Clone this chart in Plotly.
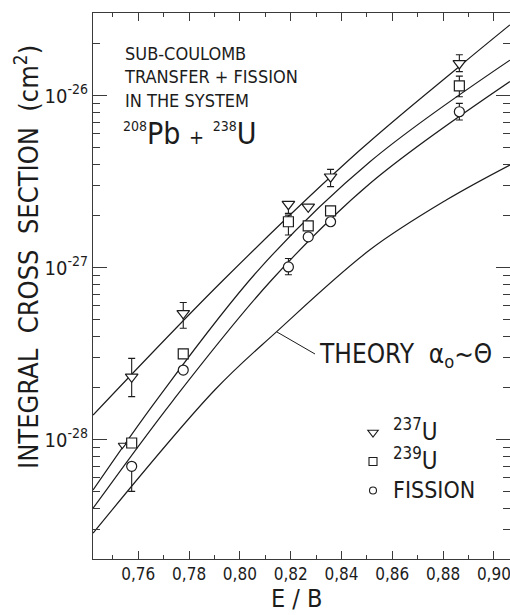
import plotly.graph_objects as go

FONT = "Liberation Sans Narrow, DejaVu Sans Condensed, Arial Narrow, Roboto Condensed, Liberation Sans, sans-serif"
INK = "#1c1c1c"
FRAME = "#3a3a3a"

# ---- measured integral cross sections (cm^2) versus E/B ----
ratio = [0.7574, 0.7777, 0.8191, 0.8269, 0.8357, 0.8864]

u237 = [2.32e-28, 5.43e-28, 2.34e-27, 2.26e-27, 3.38e-27, 1.54e-26]
u237_hi = [2.97e-28, 6.27e-28, 2.34e-27, 2.26e-27, 3.73e-27, 1.73e-26]
u237_lo = [1.78e-28, 4.44e-28, 2.07e-27, 2.26e-27, 2.96e-27, 1.38e-26]

u239 = [9.56e-29, 3.15e-28, 1.85e-27, 1.75e-27, 2.14e-27, 1.14e-26]
u239_hi = [9.56e-29, 3.15e-28, 2.02e-27, 1.75e-27, 2.14e-27, 1.30e-26]
u239_lo = [9.56e-29, 3.15e-28, 1.55e-27, 1.75e-27, 2.14e-27, 9.86e-27]

fission = [7.0e-29, 2.54e-28, 1.01e-27, 1.51e-27, 1.85e-27, 8.07e-27]
fission_hi = [7.0e-29, 2.54e-28, 1.13e-27, 1.51e-27, 1.85e-27, 9.03e-27]
fission_lo = [5.0e-29, 2.54e-28, 9.1e-28, 1.51e-27, 1.85e-27, 7.22e-27]

# extra low-energy 237U point
u237_extra_ratio = [0.7537]
u237_extra = [9.3e-29]

# ---- smooth curves through each data set ----
fit237_x = [0.7422, 0.7935, 0.8473, 0.8864, 0.9063]
fit237_y = [1.39e-28, 8.48e-28, 4.83e-27, 1.48e-26, 2.58e-26]

fit239_x = [0.7422, 0.7672, 0.8079, 0.8512, 0.9063]
fit239_y = [5.10e-29, 1.70e-28, 9.92e-28, 4.13e-27, 1.61e-26]

fitfis_x = [0.7422, 0.7738, 0.8125, 0.8512, 0.9063]
fitfis_y = [3.99e-29, 1.70e-28, 8.48e-28, 3.09e-27, 1.21e-26]

theory_x = [0.7422, 0.7902, 0.8145, 0.8512, 0.8814, 0.9063]
theory_y = [2.86e-29, 1.95e-28, 4.25e-28, 1.27e-27, 2.48e-27, 3.95e-27]

# ---- axis ticks ----
x_ticks = [0.76, 0.78, 0.80, 0.82, 0.84, 0.86, 0.88, 0.90]
x_ticktext = ["0,76", "0,78", "0,80", "0,82", "0,84", "0,86", "0,88", "0,90"]
x_minor = [0.75, 0.77, 0.79, 0.81, 0.83, 0.85, 0.87, 0.89]
y_ticks = [1e-28, 1e-27, 1e-26]
y_ticktext = ["10<sup>-28</sup>", "10<sup>-27</sup>", "10<sup>-26</sup>"]
y_minor = [m * d for d in (1e-29, 1e-28, 1e-27, 1e-26) for m in range(2, 10)]

legend_names = [
    "<span style='font-size:24px'><sup>237</sup>U</span>",
    "<span style='font-size:24px'><sup>239</sup>U</span>",
    "<span style='font-size:23px'>FISSION</span>",
]


def errs(val, hi, lo):
    return [h - v for v, h in zip(val, hi)], [v - l for v, l in zip(val, lo)]


fig = go.Figure()

for cx, cy in [(fit237_x, fit237_y), (fit239_x, fit239_y),
               (fitfis_x, fitfis_y), (theory_x, theory_y)]:
    fig.add_trace(go.Scatter(
        x=cx, y=cy, mode="lines", showlegend=False, hoverinfo="skip",
        line=dict(color=INK, width=1.2, shape="spline", smoothing=1.0),
    ))

series = [
    (u237, u237_hi, u237_lo, "triangle-down", 11),
    (u239, u239_hi, u239_lo, "square", 10),
    (fission, fission_hi, fission_lo, "circle", 10),
]
for val, hi, lo, sym, size in series:
    plus, minus = errs(val, hi, lo)
    fig.add_trace(go.Scatter(
        x=ratio, y=val, mode="markers", showlegend=False,
        marker=dict(symbol=sym, size=size, color="white",
                    line=dict(color=INK, width=1.2)),
        error_y=dict(type="data", array=plus, arrayminus=minus,
                     color=INK, thickness=1.1, width=3.5),
    ))

fig.add_trace(go.Scatter(
    x=u237_extra_ratio, y=u237_extra, mode="markers", showlegend=False,
    marker=dict(symbol="triangle-down", size=7, color="white",
                line=dict(color=INK, width=1.1)),
))

# legend keys
for name, sym, size in zip(legend_names, ["triangle-down", "square", "circle"], [9, 8, 7]):
    fig.add_trace(go.Scatter(
        x=[None], y=[None], mode="markers", name=name,
        marker=dict(symbol=sym, size=size, color="white",
                    line=dict(color=INK, width=1.1)),
    ))


def px_x(p):
    return (p - 93) / 417


def px_y(p):
    return (559 - p) / 546


SUP = "<sup><span style='font-size:14px'>{}</span></sup>"
ann = [
    dict(text="SUB-COULOMB<br>TRANSFER + FISSION<br>IN THE SYSTEM",
         x=px_x(122), y=px_y(77), size=18),
    dict(text=SUP.format("208") + "Pb <span style='font-size:20px'>+</span> "
         + SUP.format("238") + "U",
         x=px_x(121), y=px_y(133), size=30),
    dict(text="THEORY  \u03b1<sub>o</sub>~\u0398", x=px_x(317), y=px_y(355), size=26),
]
annotations = []
for a in ann:
    annotations.append(dict(
        text=a["text"], x=a["x"], y=a["y"], xref="paper", yref="paper",
        xanchor="left", yanchor="middle", align="left", showarrow=False,
        font=dict(family=FONT, size=a["size"], color=INK),
    ))

annotations.append(dict(
    text="INTEGRAL\u00a0\u00a0CROSS\u00a0\u00a0SECTION\u00a0\u00a0(cm<sup>2</sup>)",
    x=px_x(26), y=px_y(257), xref="paper", yref="paper", textangle=-90,
    xanchor="center", yanchor="middle", showarrow=False,
    font=dict(family=FONT, size=27, color=INK),
))
annotations.append(dict(
    text="E / B", x=px_x(297), y=px_y(598), xref="paper", yref="paper",
    xanchor="center", yanchor="middle", showarrow=False,
    font=dict(family=FONT, size=25, color=INK),
))

fig.update_layout(
    width=510, height=615,
    margin=dict(l=93, r=0, t=13, b=56),
    paper_bgcolor="white", plot_bgcolor="white",
    font=dict(family=FONT, color=INK),
    annotations=annotations,
    shapes=[dict(type="line", xref="paper", yref="paper",
                 x0=px_x(277), y0=px_y(332), x1=px_x(315), y1=px_y(354),
                 line=dict(color=INK, width=1))],
    showlegend=True,
    legend=dict(x=px_x(353), y=px_y(413), xanchor="left", yanchor="top",
                bgcolor="rgba(0,0,0,0)", font=dict(family=FONT, size=20, color=INK),
                itemsizing="trace"),
    xaxis=dict(
        range=[0.74217, 0.90634], tickmode="array", tickvals=x_ticks, ticktext=x_ticktext,
        ticks="inside", ticklen=8, tickwidth=1, tickcolor=FRAME,
        showline=True, linecolor=FRAME, linewidth=1, mirror="allticks",
        minor=dict(tickmode="array", tickvals=x_minor, ticks="inside", ticklen=4,
                   tickwidth=1, tickcolor=FRAME, showgrid=False),
        showgrid=False, zeroline=False, ticklabeloverflow="allow",
        tickfont=dict(family=FONT, size=17, color=INK),
    ),
    yaxis=dict(
        type="log", range=[-28.694, -25.519], tickmode="array", tickvals=y_ticks,
        ticktext=y_ticktext, ticks="inside", ticklen=14, tickwidth=1, tickcolor=FRAME,
        showline=True, linecolor=FRAME, linewidth=1, mirror="allticks",
        minor=dict(tickmode="array", tickvals=y_minor, ticks="inside", ticklen=7,
                   tickwidth=1, tickcolor=FRAME, showgrid=False),
        showgrid=False, zeroline=False,
        tickfont=dict(family=FONT, size=20, color=INK),
    ),
)

fig.write_html("out.html")
